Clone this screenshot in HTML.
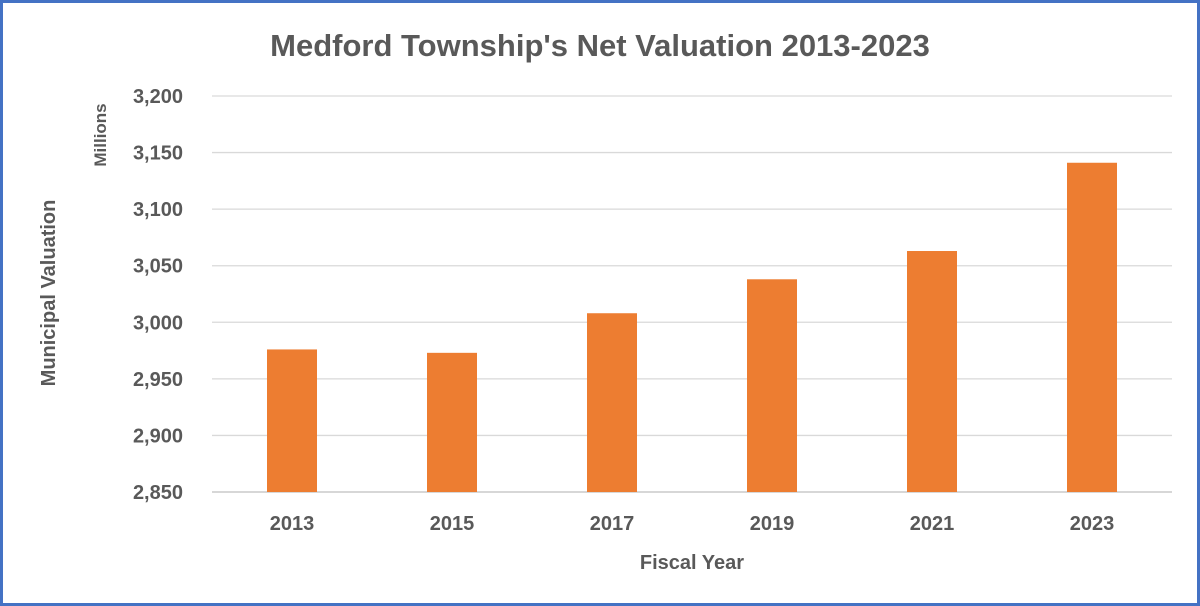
<!DOCTYPE html>
<html><head><meta charset="utf-8"><style>
html,body{margin:0;padding:0;background:#fff;}
svg{display:block;}
text{font-family:"Liberation Sans",sans-serif;font-weight:bold;fill:#595959;}
</style></head><body>
<svg id="chart" width="1200" height="606" xmlns="http://www.w3.org/2000/svg">
<rect x="1.5" y="1.5" width="1197" height="603" fill="#fff" stroke="#4472C4" stroke-width="3"/>
<text x="600" y="56" text-anchor="middle" font-size="31">Medford Township's Net Valuation 2013-2023</text>
<text x="692" y="569" text-anchor="middle" font-size="20">Fiscal Year</text>
<text transform="translate(55,293) rotate(-90)" text-anchor="middle" font-size="20">Municipal Valuation</text>
<text transform="translate(106,135) rotate(-90)" text-anchor="middle" font-size="17">Millions</text>
<g id="grid"></g><g id="bars"></g><g id="labels"></g>
</svg>
<script>
const categories=["2013","2015","2017","2019","2021","2023"];
const values=[2976,2973,3008,3038,3063,3141];
const yTicks=[2850,2900,2950,3000,3050,3100,3150,3200];
const yTickLabels=["2,850","2,900","2,950","3,000","3,050","3,100","3,150","3,200"];
const NS="http://www.w3.org/2000/svg";
const x0=212,x1=1172,yTop=96,yBot=492,yMin=2850,yMax=3200;
const y=v=>yBot-(v-yMin)/(yMax-yMin)*(yBot-yTop);
const band=(x1-x0)/categories.length;
const xc=i=>x0+band*(i+0.5);
const grid=document.getElementById('grid'),bars=document.getElementById('bars'),labels=document.getElementById('labels');
yTicks.forEach((t,i)=>{
  const l=document.createElementNS(NS,'line');
  l.setAttribute('x1',x0);l.setAttribute('x2',x1);l.setAttribute('y1',y(t));l.setAttribute('y2',y(t));
  l.setAttribute('stroke',i===0?'#bfbfbf':'#d9d9d9');l.setAttribute('stroke-width','1.3');
  
  
  grid.appendChild(l);
  const tx=document.createElementNS(NS,'text');
  tx.setAttribute('x',183);tx.setAttribute('y',y(t)+7);tx.setAttribute('text-anchor','end');tx.setAttribute('font-size','20');
  tx.textContent=yTickLabels[i];
  
  
  labels.appendChild(tx);
});
categories.forEach((c,i)=>{
  const r=document.createElementNS(NS,'rect');
  r.setAttribute('x',xc(i)-25);r.setAttribute('width',50);
  r.setAttribute('y',y(values[i]));r.setAttribute('height',yBot-y(values[i]));
  r.setAttribute('fill','#ED7D31');
  
  
  bars.appendChild(r);
  const tx=document.createElementNS(NS,'text');
  tx.setAttribute('x',xc(i));tx.setAttribute('y',530);tx.setAttribute('text-anchor','middle');tx.setAttribute('font-size','20');
  tx.textContent=c;
  
  
  labels.appendChild(tx);
});
</script>
</body></html>
